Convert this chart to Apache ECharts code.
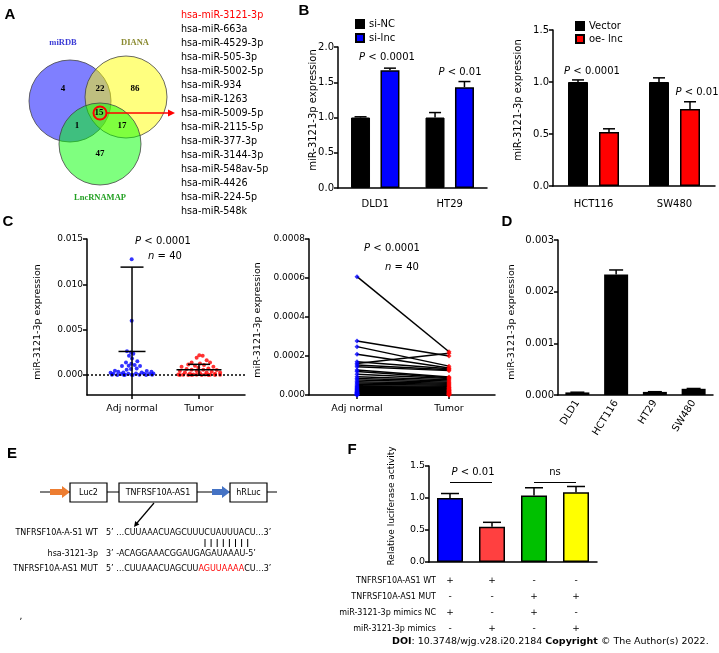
<!DOCTYPE html>
<html>

<head>
  <meta charset="utf-8">
  <title>miR-3121-3p</title>
  <script src="https://cdn.jsdelivr.net/npm/echarts@6.0.0/dist/echarts.min.js"></script>
  <style type="text/css">
    html,
    body {
      margin: 0;
      background-color: #fff;
    }

    #main {
      width: 719px;
      height: 653px;
    }
  </style>
</head>

<body>
  <div id="main"></div>

  <script type="text/javascript">
    // ---- data ----
    var mirList = ['hsa-miR-3121-3p', 'hsa-miR-663a', 'hsa-miR-4529-3p', 'hsa-miR-505-3p', 'hsa-miR-5002-5p',
      'hsa-miR-934', 'hsa-miR-1263', 'hsa-miR-5009-5p', 'hsa-miR-2115-5p', 'hsa-miR-377-3p',
      'hsa-miR-3144-3p', 'hsa-miR-548av-5p', 'hsa-miR-4426', 'hsa-miR-224-5p', 'hsa-miR-548k'];
    var vennSets = ['miRDB', 'DIANA', 'LncRNAMAP'];
    // miRDB only, miRDB&DIANA, DIANA only, all three, miRDB&Lnc, DIANA&Lnc, Lnc only
    var vennCounts = [4, 22, 86, 15, 1, 17, 47];

    var bLeftCells = ['DLD1', 'HT29'];
    var siNC = [1.00, 1.00];
    var siNCErr = [0.01, 0.07];
    var siLnc = [1.67, 1.43];
    var siLncErr = [0.03, 0.08];
    var bLeftP = ['0.0001', '0.01'];

    var bRightCells = ['HCT116', 'SW480'];
    var vectorVals = [1.00, 1.00];
    var vectorErr = [0.02, 0.04];
    var oeLnc = [0.52, 0.74];
    var oeLncErr = [0.03, 0.07];

    // C left: scatter (x = jittered group position, 1 = Adj normal, 2 = Tumor)
    var adjNormal = [0.01277, 0.00599, 0.00263, 0.00248, 0.00234, 0.00212, 0.00183, 0.00153, 0.00139, 0.00124,
      0.00110, 0.00102, 0.00099, 0.00099, 0.00073, 0.00066, 0.00058, 0.00047, 0.00037, 0.00029,
      0.00026, 0.00044, 0.00037, 0.00029, 0.00015, 0.00011, 0.00015, 0.00018, 0.00015, 0.00011,
      0.00018, 0.00002, 0.00001, 0.00001, 0.00001, 0.00002, 0.00001, 0.00002, 0.00003, 0.00003];
    var adjJitter = [0.995, 0.995, 0.925, 0.985, 1.02, 0.955, 1.0, 1.08, 0.91, 0.99,
      1.04, 0.95, 1.12, 0.85, 1.07, 0.985, 0.92, 0.745, 0.795, 0.87,
      0.68, 1.22, 1.29, 1.145, 0.72, 0.835, 0.945, 1.06, 1.18, 1.255,
      1.32, 0.70, 0.78, 0.88, 1.01, 1.11, 1.21, 1.30, 0.995, 0.895];
    var tumorVals = [0.00219, 0.00212, 0.00190, 0.00164, 0.00139, 0.00128, 0.00139, 0.00117, 0.00110, 0.00102,
      0.00091, 0.00091, 0.00080, 0.00073, 0.00066, 0.00058, 0.00058, 0.00055, 0.00044, 0.00044,
      0.00037, 0.00029, 0.00029, 0.00029, 0.00018, 0.00022, 0.00015, 0.00007, 0.00007, 0.00007,
      0.00002, 0.00002, 0.00002, 0.00002, 0.00001, 0.00001, 0.00001, 0.00001, 0.00001, 0.00001];
    var tumorJitter = [2.005, 2.055, 1.965, 2.115, 1.89, 2.015, 2.165, 1.84, 2.075, 1.94,
      1.74, 2.215, 1.99, 2.14, 1.815, 1.89, 2.065, 2.265, 1.715, 1.965,
      2.19, 1.79, 2.115, 2.315, 1.865, 2.015, 2.24, 1.69, 1.915, 2.09,
      1.765, 1.965, 2.165, 2.315, 1.84, 2.04, 1.715, 2.14, 2.24, 1.89];
    // mean, mean + SD, mean - SD
    var adjSummary = [0.0026, 0.0119, -0.0067];
    var tumorSummary = [0.00058, 0.00118, -0.00002];

    // C right: paired samples
    var pairedAdj = [0.000607, 0.000277, 0.000248, 0.000209, 0.000171, 0.000162, 0.000154, 0.000145, 0.000128, 0.000120,
      0.000106, 0.000094, 0.000085, 0.000077, 0.000068, 0.000061, 0.000055, 0.000048, 0.000043, 0.000038,
      0.000034, 0.000031, 0.000027, 0.000024, 0.000020, 0.000017, 0.000015, 0.000014, 0.000012, 0.000010,
      0.000009, 0.000007, 0.000005, 0.000004, 0.000003, 0.000002, 0.000002, 0.000001, 0.000000, 0.000000];
    var pairedTumor = [0.000222, 0.000200, 0.000148, 0.000138, 0.000134, 0.000214, 0.000130, 0.000125, 0.000092, 0.000088,
      0.000084, 0.000078, 0.000072, 0.000066, 0.000060, 0.000055, 0.000050, 0.000045, 0.000040, 0.000037,
      0.000034, 0.000031, 0.000028, 0.000026, 0.000024, 0.000022, 0.000020, 0.000018, 0.000016, 0.000014,
      0.000012, 0.000010, 0.000009, 0.000007, 0.000006, 0.000004, 0.000003, 0.000002, 0.000001, 0.000000];

    var dCells = ['DLD1', 'HCT116', 'HT29', 'SW480'];
    var dVals = [0.00005, 0.00233, 0.00006, 0.00012];
    var dErr = [0.000004, 0.00009, 0.000004, 0.000006];

    var fGroups = ['WT+NC', 'WT+mimics', 'MUT+NC', 'MUT+mimics'];
    var fVals = [1.00, 0.55, 1.04, 1.09];
    var fErr = [0.07, 0.07, 0.12, 0.09];
    var fRowNames = ['TNFRSF10A-AS1 WT', 'TNFRSF10A-AS1 MUT', 'miR-3121-3p mimics NC', 'miR-3121-3p mimics'];
    var fRows = [['+', '+', '-', '-'], ['-', '-', '+', '+'], ['+', '-', '+', '-'], ['-', '+', '-', '+']];

    // ---- styles ----
    var FONT = 'DejaVu Sans';
    var fColors = ['#0000ff', '#ff4040', '#00c000', '#ffff00'];

    function yAxisBase(grid, min, max, interval, digits, size) {
      return {
        gridIndex: grid, type: 'value', min: min, max: max, interval: interval,
        axisLine: { show: true, lineStyle: { color: '#000', width: 1.5 } },
        axisTick: { show: true, length: 4, lineStyle: { color: '#000', width: 1.5 } },
        axisLabel: {
          color: '#000', fontSize: size || 10, fontFamily: FONT, margin: 4,
          formatter: function (v) { return v.toFixed(digits); }
        },
        splitLine: { show: false }
      };
    }

    function catAxis(grid, cats, margin) {
      return {
        gridIndex: grid, type: 'category', data: cats,
        axisLine: { lineStyle: { color: '#000', width: 1.5 } },
        axisTick: { alignWithLabel: true, length: 4, lineStyle: { color: '#000', width: 1.5 } },
        axisLabel: { color: '#000', fontSize: 10, fontFamily: FONT, margin: margin, interval: 0 },
        splitLine: { show: false }
      };
    }

    function errSeries(ax, vals, errs, dx, cap) {
      return {
        type: 'custom', xAxisIndex: ax, yAxisIndex: ax, z: 3, silent: true,
        data: vals.map(function (v, i) { return [i, v, v + errs[i]]; }),
        renderItem: function (params, api) {
          var p0 = api.coord([api.value(0), api.value(1)]);
          var p1 = api.coord([api.value(0), api.value(2)]);
          var x = p0[0] + dx;
          return {
            type: 'group', children: [
              { type: 'line', shape: { x1: x, y1: p0[1], x2: x, y2: p1[1] }, style: { stroke: '#000', lineWidth: 1.5 } },
              { type: 'line', shape: { x1: x - cap / 2, y1: p1[1], x2: x + cap / 2, y2: p1[1] }, style: { stroke: '#000', lineWidth: 1.5 } }
            ]
          };
        }
      };
    }

    function meanSdSeries(xc, s, meanW, capW) {
      return {
        type: 'custom', xAxisIndex: 2, yAxisIndex: 2, z: 4, clip: true, silent: true,
        encode: { x: 0, y: [1, 2, 3] },
        data: [[xc, s[0], s[1], s[2]]],
        renderItem: function (params, api) {
          var m = api.coord([api.value(0), api.value(1)]);
          var hi = api.coord([api.value(0), api.value(2)]);
          var lo = api.coord([api.value(0), api.value(3)]);
          var st = { stroke: '#000', lineWidth: 1.5 };
          return {
            type: 'group', children: [
              { type: 'line', shape: { x1: m[0], y1: hi[1], x2: m[0], y2: lo[1] }, style: st },
              { type: 'line', shape: { x1: m[0] - meanW / 2, y1: m[1], x2: m[0] + meanW / 2, y2: m[1] }, style: st },
              { type: 'line', shape: { x1: m[0] - capW / 2, y1: hi[1], x2: m[0] + capW / 2, y2: hi[1] }, style: st },
              { type: 'line', shape: { x1: m[0] - capW / 2, y1: lo[1], x2: m[0] + capW / 2, y2: lo[1] }, style: st }
            ]
          };
        }
      };
    }

    // ---- graphic helpers ----
    var g = [];
    function txt(x, y, s, st, rot) {
      var style = {
        text: s, fill: '#000', fontFamily: FONT, fontSize: 10,
        align: 'center', textAlign: 'center', verticalAlign: 'middle', textVerticalAlign: 'middle'
      };
      for (var k in st) style[k] = st[k];
      g.push({ type: 'text', x: x, y: y, rotation: rot || 0, style: style, silent: true });
    }
    function seg(x1, y1, x2, y2, color, w) {
      g.push({ type: 'line', shape: { x1: x1, y1: y1, x2: x2, y2: y2 }, style: { stroke: color || '#000', lineWidth: w || 1 }, silent: true });
    }
    var italic = { i: { fontStyle: 'italic', fontFamily: FONT, fontSize: 10 } };

    // panel letters
    var panelPos = [['A', 10, 15], ['B', 304, 11], ['C', 8, 222], ['D', 507, 222], ['E', 12, 454], ['F', 352, 450]];
    panelPos.forEach(function (p) {
      txt(p[1], p[2], p[0], { fontFamily: 'Liberation Sans', fontWeight: 'bold', fontSize: 15 });
    });

    // ---- A: Venn diagram ----
    var vennCircles = [[70, 101, 41, 'rgba(0,0,255,0.5)'], [126, 97, 41, 'rgba(255,255,0,0.5)'], [100, 144, 41, 'rgba(0,255,0,0.5)']];
    vennCircles.forEach(function (c) {
      g.push({ type: 'circle', shape: { cx: c[0], cy: c[1], r: c[2] }, style: { fill: c[3], stroke: '#444', lineWidth: 0.8 }, silent: true });
    });
    var vennNumPos = [[63, 89], [100, 89], [135, 89], [99, 113], [77, 126], [122, 126], [100, 154]];
    vennCounts.forEach(function (n, i) {
      txt(vennNumPos[i][0], vennNumPos[i][1], String(n), { fontFamily: 'Liberation Serif', fontWeight: 'bold', fontSize: 9 });
    });
    var vennLabelPos = [[63, 43, '#3b3bd6'], [135, 43, '#8a8a30'], [100, 198, '#22a022']];
    vennSets.forEach(function (s, i) {
      txt(vennLabelPos[i][0], vennLabelPos[i][1], s, { fontFamily: 'Liberation Serif', fontWeight: 'bold', fontSize: 8.5, fill: vennLabelPos[i][2] });
    });
    g.push({ type: 'circle', shape: { cx: 100, cy: 113, r: 6.5 }, style: { fill: 'none', stroke: '#ff0000', lineWidth: 2 }, silent: true });
    seg(106.5, 113, 169, 113, '#ff0000', 1.5);
    g.push({ type: 'polygon', shape: { points: [[175, 113], [168, 109.5], [168, 116.5]] }, style: { fill: '#ff0000' }, silent: true });
    mirList.forEach(function (m, i) {
      txt(181, 15 + i * 14, m, { align: 'left', textAlign: 'left', fontSize: 9.6, fill: i === 0 ? '#ff0000' : '#000' });
    });

    // ---- axis titles ----
    var yTitle = 'miR-3121-3p expression';
    txt(313, 110, yTitle, { fontSize: 10 }, Math.PI / 2);
    txt(518, 100, yTitle, { fontSize: 10 }, Math.PI / 2);
    txt(38, 322, yTitle, { fontSize: 9.5 }, Math.PI / 2);
    txt(258, 320, yTitle, { fontSize: 9.5 }, Math.PI / 2);
    txt(512, 322, yTitle, { fontSize: 9.5 }, Math.PI / 2);
    txt(392, 506, 'Relative luciferase activity', { fontSize: 9 }, Math.PI / 2);

    // ---- P value annotations ----
    txt(387, 57, '{i|P} < ' + bLeftP[0], { rich: italic });
    txt(460, 72, '{i|P} < ' + bLeftP[1], { rich: italic });
    txt(592, 71, '{i|P} < 0.0001', { rich: italic });
    txt(697, 92, '{i|P} < 0.01', { rich: italic });
    txt(163, 241, '{i|P} < 0.0001', { rich: italic });
    txt(165, 256, '{i|n} = 40', { rich: italic });
    txt(392, 248, '{i|P} < 0.0001', { rich: italic });
    txt(402, 267, '{i|n} = 40', { rich: italic });
    txt(473, 472, '{i|P} < 0.01', { rich: italic });
    txt(555, 472, 'ns', {});

    // ---- E: construct diagram ----
    seg(40, 492, 277, 492, '#000', 1);
    g.push({ type: 'polygon', shape: { points: [[50, 489], [62, 489], [62, 486], [70, 492], [62, 498], [62, 495], [50, 495]] }, style: { fill: '#ed7d31' }, silent: true });
    g.push({ type: 'polygon', shape: { points: [[212, 489], [222, 489], [222, 486], [230, 492], [222, 498], [222, 495], [212, 495]] }, style: { fill: '#4472c4' }, silent: true });
    var boxes = [[70, 37, 'Luc2'], [119, 78, 'TNFRSF10A-AS1'], [230, 37, 'hRLuc']];
    boxes.forEach(function (b) {
      g.push({ type: 'rect', shape: { x: b[0], y: 483, width: b[1], height: 19 }, style: { fill: '#fff', stroke: '#000', lineWidth: 1.2 }, silent: true });
      txt(b[0] + b[1] / 2, 492.5, b[2], { fontSize: 8 });
    });
    seg(154, 503, 137, 523, '#000', 1.2);
    g.push({ type: 'polygon', shape: { points: [[134, 527], [139.4, 524.4], [135.2, 521]] }, style: { fill: '#000' }, silent: true });
    var seqRows = [
      [533, 'TNFRSF10A-A-S1 WT', '5\u2019 \u2026CUUAAACUAGCUUUCUAUUUACU\u20263\u2019'],
      [554, 'hsa-3121-3p', '3\u2019 -ACAGGAAACGGAUGAGAUAAAU-5\u2019'],
      [569, 'TNFRSF10A-AS1 MUT', '5\u2019 \u2026CUUAAACUAGCUU{r|AGUUAAAA}CU\u20263\u2019']
    ];
    seqRows.forEach(function (r) {
      txt(98, r[0], r[1], { fontSize: 8, align: 'right', textAlign: 'right' });
      txt(106, r[0], r[2], {
        fontSize: 8, align: 'left', textAlign: 'left',
        rich: { r: { fill: '#ff0000', color: '#ff0000', fontSize: 8, fontFamily: FONT } }
      });
    });
    for (var p = 0; p < 8; p++) {
      seg(205 + p * 6.1, 539, 205 + p * 6.1, 547, '#000', 1);
    }
    txt(21, 617, ',', { fontSize: 9 });

    // ---- F: table row names and footer ----
    fRowNames.forEach(function (n, i) {
      txt(436, 581 + i * 16, n, { fontSize: 8, align: 'right', textAlign: 'right' });
    });
    txt(392, 642, '{b|DOI}: 10.3748/wjg.v28.i20.2184 {b|Copyright} \u00a9 The Author(s) 2022.', {
      fontSize: 9.5, align: 'left', textAlign: 'left',
      rich: { b: { fontWeight: 'bold', fontSize: 9.5, fontFamily: FONT } }
    });

    // ---- chart ----
    var myChart = echarts.init(document.getElementById('main'), null, { renderer: 'canvas' });

    var cLeftY = yAxisBase(2, -0.0022, 0.015, null, 3, 9);
    delete cLeftY.interval;
    cLeftY.axisLabel.customValues = [0, 0.005, 0.01, 0.015];
    cLeftY.axisTick.customValues = [0, 0.005, 0.01, 0.015];

    var cRightY = yAxisBase(3, 0, 0.0008, 0.0002, 4, 9);
    cRightY.axisLabel.formatter = function (v) { return v === 0 ? '0.000' : v.toFixed(4); };

    function groupAxis(grid, min, max) {
      return {
        gridIndex: grid, type: 'value', min: min, max: max,
        axisLine: { onZero: false, lineStyle: { color: '#000', width: 1.5 } },
        axisTick: { customValues: [1, 2], length: 4, lineStyle: { color: '#000', width: 1.5 } },
        axisLabel: {
          customValues: [1, 2], color: '#000', fontSize: 9.5, fontFamily: FONT, margin: 9,
          formatter: function (v) { return v === 1 ? 'Adj normal' : 'Tumor'; }
        },
        splitLine: { show: false }
      };
    }

    var dX = catAxis(4, dCells, 6);
    dX.axisLabel.rotate = 58;
    var fX = catAxis(5, fGroups, 11);
    fX.axisLabel.fontSize = 9;
    fX.axisLabel.lineHeight = 16;
    fX.axisLabel.formatter = function (v, i) {
      return fRows.map(function (r) { return r[i]; }).join('\n');
    };

    option = {
      animation: false,
      textStyle: { fontFamily: FONT },
      grid: [
        { left: 338, top: 47, width: 149, height: 141 },
        { left: 553, top: 30, width: 162, height: 156 },
        { left: 87, top: 239, width: 158, height: 156 },
        { left: 309, top: 239, width: 186, height: 156 },
        { left: 558, top: 240, width: 155, height: 155 },
        { left: 429, top: 466, width: 168, height: 96 }
      ],
      legend: [
        {
          data: ['si-NC', 'si-lnc'], orient: 'vertical', left: 355, top: 19, padding: 0,
          itemWidth: 8, itemHeight: 8, itemGap: 4, icon: 'rect', selectedMode: false,
          textStyle: { fontSize: 10, color: '#000', fontFamily: FONT }
        },
        {
          data: ['Vector', 'oe- lnc'], orient: 'vertical', left: 575, top: 21, padding: 0,
          itemWidth: 8, itemHeight: 8, itemGap: 3, icon: 'rect', selectedMode: false,
          textStyle: { fontSize: 10, color: '#000', fontFamily: FONT }
        }
      ],
      xAxis: [
        catAxis(0, bLeftCells, 11),
        catAxis(1, bRightCells, 13),
        groupAxis(2, 0.328, 2.687),
        groupAxis(3, 0.478, 2.5),
        dX,
        fX
      ],
      yAxis: [
        yAxisBase(0, 0, 2, 0.5, 1),
        yAxisBase(1, 0, 1.5, 0.5, 1),
        cLeftY,
        cRightY,
        yAxisBase(4, 0, 0.003, 0.001, 3),
        yAxisBase(5, 0, 1.5, 0.5, 1, 9.5)
      ],
      graphic: { elements: g },
      series: [
        // B left
        { type: 'bar', name: 'si-NC', xAxisIndex: 0, yAxisIndex: 0, data: siNC, barWidth: 19, barGap: '55%', itemStyle: { color: '#000', borderColor: '#000', borderWidth: 1 } },
        { type: 'bar', name: 'si-lnc', xAxisIndex: 0, yAxisIndex: 0, data: siLnc, barWidth: 19, barGap: '55%', itemStyle: { color: '#0000ff', borderColor: '#000', borderWidth: 1.5 } },
        errSeries(0, siNC, siNCErr, -14.7, 12),
        errSeries(0, siLnc, siLncErr, 14.7, 12),
        // B right
        { type: 'bar', name: 'Vector', xAxisIndex: 1, yAxisIndex: 1, data: vectorVals, barWidth: 20, barGap: '55%', itemStyle: { color: '#000', borderColor: '#000', borderWidth: 1 } },
        { type: 'bar', name: 'oe- lnc', xAxisIndex: 1, yAxisIndex: 1, data: oeLnc, barWidth: 20, barGap: '55%', itemStyle: { color: '#ff0000', borderColor: '#000', borderWidth: 1.5 } },
        errSeries(1, vectorVals, vectorErr, -15.5, 12),
        errSeries(1, oeLnc, oeLncErr, 15.5, 12),
        // C left
        {
          type: 'scatter', xAxisIndex: 2, yAxisIndex: 2, symbol: 'circle', symbolSize: 4, z: 3,
          itemStyle: { color: '#0000ff' },
          data: adjNormal.map(function (v, i) { return [adjJitter[i], v]; }),
          markLine: {
            silent: true, symbol: 'none', label: { show: false },
            lineStyle: { color: '#000', width: 1.5, type: [2, 2] },
            data: [{ yAxis: 0 }]
          }
        },
        {
          type: 'scatter', xAxisIndex: 2, yAxisIndex: 2, symbol: 'circle', symbolSize: 4, z: 3,
          itemStyle: { color: '#ff0000' },
          data: tumorVals.map(function (v, i) { return [tumorJitter[i], v]; })
        },
        meanSdSeries(1, adjSummary, 27, 23),
        meanSdSeries(2, tumorSummary, 45, 22),
        // C right
        {
          type: 'custom', xAxisIndex: 3, yAxisIndex: 3, z: 2, silent: true,
          encode: { x: [0, 2], y: [1, 3] },
          data: pairedAdj.map(function (v, i) { return [1, v, 2, pairedTumor[i]]; }),
          renderItem: function (params, api) {
            var a = api.coord([api.value(0), api.value(1)]);
            var b = api.coord([api.value(2), api.value(3)]);
            return { type: 'line', shape: { x1: a[0], y1: a[1], x2: b[0], y2: b[1] }, style: { stroke: '#000', lineWidth: 1.5 } };
          }
        },
        {
          type: 'scatter', xAxisIndex: 3, yAxisIndex: 3, symbol: 'diamond', symbolSize: 5, z: 3,
          itemStyle: { color: '#0000ff' },
          data: pairedAdj.map(function (v) { return [1, v]; })
        },
        {
          type: 'scatter', xAxisIndex: 3, yAxisIndex: 3, symbol: 'diamond', symbolSize: 5, z: 3,
          itemStyle: { color: '#ff0000' },
          data: pairedTumor.map(function (v) { return [2, v]; })
        },
        // D
        { type: 'bar', xAxisIndex: 4, yAxisIndex: 4, data: dVals, barWidth: 24, itemStyle: { color: '#000' } },
        errSeries(4, dVals, dErr, 0, 14),
        // F
        {
          type: 'bar', xAxisIndex: 5, yAxisIndex: 5, barWidth: 26,
          data: fVals.map(function (v, i) {
            return { value: v, itemStyle: { color: fColors[i], borderColor: '#000', borderWidth: 1.5 } };
          }),
          markLine: {
            silent: true, symbol: 'none', label: { show: false },
            lineStyle: { color: '#000', width: 1, type: 'solid' },
            data: [
              [{ coord: [0, 1.25] }, { coord: [1, 1.25] }],
              [{ coord: [2, 1.25] }, { coord: [3, 1.25] }]
            ]
          }
        },
        errSeries(5, fVals, fErr, 0, 18)
      ]
    };

    myChart.setOption(option);
  </script>
</body>

</html>
